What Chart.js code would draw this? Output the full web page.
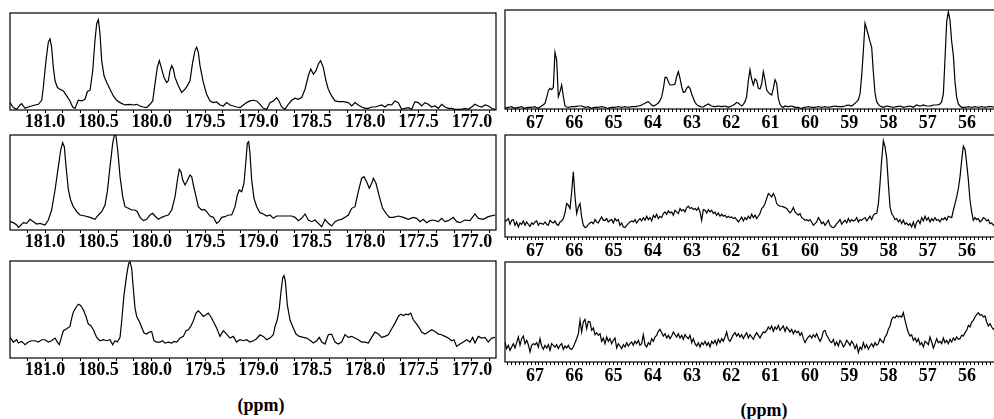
<!DOCTYPE html>
<html><head><meta charset="utf-8">
<script src="https://cdn.jsdelivr.net/npm/chart.js@4.4.1/dist/chart.umd.min.js"></script>
<style>
html,body{margin:0;padding:0;background:#fff;overflow:hidden;}
#wrap{position:relative;width:994px;height:419px;overflow:hidden;background:#fff;}
#wrap canvas{position:absolute;}
.unit{position:absolute;width:120px;text-align:center;font:bold 18px/18px "Liberation Serif","Times New Roman",serif;color:#000;}
</style></head><body><div id="wrap">
<canvas id="cTL"></canvas><canvas id="cML"></canvas><canvas id="cBL"></canvas>
<canvas id="cTR"></canvas><canvas id="cMR"></canvas><canvas id="cBR"></canvas>
<div class="unit" style="left:201px;top:396px">(ppm)</div>
<div class="unit" style="left:704px;top:401px">(ppm)</div>
</div>
<script>
// ---------- tick labels ----------
const leftTickLabels = ['181.0','180.5','180.0','179.5','179.0','178.5','178.0','177.5','177.0'];
const rightTickLabels = ['67','66','65','64','63','62','61','60','59','58','57','56'];

// ---------- left column (carbonyl region), chemical shift in ppm ----------
const ppmTopLeft = [
181.328,181.297,181.265,181.234,181.219,181.187,181.156,181.125,181.094,181.062,
181.031,181.016,180.991,180.969,180.953,180.938,180.922,180.906,180.884,180.859,
180.828,180.797,180.766,180.741,180.719,180.688,180.657,180.625,180.603,180.578,
180.553,180.532,180.516,180.500,180.485,180.469,180.447,180.422,180.391,180.360,
180.329,180.297,180.251,180.204,180.173,180.141,180.110,180.079,180.048,180.016,
179.991,179.970,179.948,179.929,179.907,179.885,179.860,179.845,179.829,179.813,
179.798,179.782,179.751,179.720,179.688,179.667,179.642,179.617,179.595,179.579,
179.564,179.548,179.517,179.486,179.454,179.423,179.392,179.361,179.329,179.298,
179.267,179.236,179.205,179.173,179.142,179.111,179.080,179.048,179.017,178.986,
178.955,178.923,178.892,178.861,178.830,178.808,178.783,178.752,178.721,178.689,
178.658,178.627,178.596,178.564,178.533,178.511,178.486,178.461,178.439,178.418,
178.393,178.368,178.346,178.315,178.283,178.252,178.205,178.158,178.127,178.096,
178.065,178.034,178.003,177.971,177.940,177.909,177.877,177.846,177.815,177.784,
177.752,177.721,177.690,177.659,177.628,177.596,177.565,177.534,177.503,177.471,
177.440,177.409,177.378,177.347,177.315,177.284,177.253,177.222,177.190,177.159,
177.128,177.097,177.066,177.035,177.003,176.972,176.941,176.909,176.878,176.847,
176.816,176.784];
const intTopLeft = [
22,7,2,15,19,5,9,12,15,17,
29,67,147,202,212,187,127,87,67,62,
57,42,27,9,5,29,27,32,55,59,
117,207,257,269,227,147,102,82,62,42,
29,22,15,17,15,17,12,9,7,17,
27,77,127,147,122,97,82,87,117,132,
122,97,72,52,62,72,87,142,177,187,
172,132,82,47,27,22,24,15,12,22,
15,12,9,7,15,22,27,29,27,17,
5,2,22,27,37,27,9,2,17,29,
35,32,37,62,102,122,107,117,137,147,
127,87,62,42,27,25,25,22,12,22,
15,9,5,5,9,9,12,15,9,17,
15,27,22,2,5,7,2,25,22,12,
22,17,9,12,5,17,9,5,5,2,
2,2,5,2,9,17,12,9,15,12,
5,2];

const ppmMidLeft = [
181.328,181.297,181.265,181.250,181.234,181.203,181.172,181.141,181.109,181.078,
181.047,181.000,180.969,180.938,180.906,180.875,180.853,180.835,180.819,180.803,
180.781,180.760,180.735,180.703,180.672,180.625,180.578,180.532,180.500,180.469,
180.438,180.416,180.391,180.366,180.350,180.335,180.319,180.297,180.272,180.251,
180.219,180.188,180.157,180.135,180.110,180.079,180.048,180.016,179.991,179.970,
179.938,179.907,179.876,179.845,179.813,179.782,179.757,179.742,179.726,179.710,
179.688,179.664,179.642,179.626,179.610,179.585,179.564,179.532,179.510,179.486,
179.454,179.423,179.392,179.370,179.345,179.314,179.283,179.251,179.220,179.198,
179.180,179.158,179.136,179.117,179.105,179.092,179.080,179.064,179.042,179.017,
178.986,178.955,178.923,178.892,178.861,178.830,178.783,178.736,178.689,178.658,
178.627,178.596,178.564,178.533,178.502,178.471,178.439,178.408,178.377,178.346,
178.315,178.283,178.252,178.221,178.190,178.158,178.127,178.096,178.065,178.034,
178.012,177.987,177.962,177.940,177.924,177.899,177.868,177.837,177.805,177.774,
177.737,177.690,177.643,177.596,177.550,177.518,177.487,177.456,177.425,177.393,
177.362,177.315,177.284,177.253,177.222,177.175,177.144,177.112,177.066,177.019,
176.972,176.941,176.894,176.847,176.784];
const intMidLeft = [
25,22,15,8,12,22,20,32,25,18,
20,15,30,60,120,190,240,262,250,190,
120,90,70,55,45,42,38,32,45,55,
75,115,190,260,285,282,240,160,100,70,
65,60,60,55,38,28,32,45,50,42,
32,38,42,45,60,100,155,182,175,150,
135,150,165,160,135,100,70,60,62,55,
42,38,20,25,38,40,45,45,70,105,
120,115,140,210,260,265,230,150,95,70,
52,48,42,45,35,42,42,42,42,38,
28,35,48,30,25,30,20,10,32,20,
12,25,30,32,38,45,65,70,115,155,
160,145,125,140,155,140,100,65,50,38,
38,42,38,32,38,35,25,32,22,28,
30,25,35,25,28,38,25,22,30,28,
48,35,32,40,45];

const ppmBotLeft = [
181.328,181.297,181.265,181.250,181.219,181.187,181.156,181.125,181.094,181.062,
181.031,181.000,180.969,180.938,180.906,180.884,180.866,180.844,180.828,180.797,
180.766,180.750,180.735,180.710,180.688,180.666,180.641,180.616,180.594,180.572,
180.547,180.516,180.485,180.454,180.422,180.391,180.366,180.344,180.322,180.297,
180.282,180.260,180.235,180.216,180.204,180.188,180.173,180.157,180.141,180.116,
180.094,180.072,180.048,180.023,180.001,179.979,179.954,179.923,179.898,179.876,
179.845,179.813,179.792,179.767,179.735,179.704,179.679,179.657,179.635,179.610,
179.585,179.564,179.542,179.517,179.492,179.470,179.448,179.423,179.392,179.361,
179.329,179.298,179.267,179.236,179.205,179.173,179.142,179.111,179.080,179.048,
179.017,178.986,178.955,178.923,178.892,178.861,178.845,178.824,178.805,178.789,
178.773,178.761,178.748,178.730,178.705,178.680,178.649,178.617,178.580,178.549,
178.511,178.486,178.455,178.430,178.408,178.377,178.346,178.315,178.283,178.252,
178.221,178.190,178.158,178.127,178.096,178.065,178.034,178.003,177.971,177.940,
177.909,177.877,177.846,177.815,177.784,177.752,177.721,177.690,177.668,177.643,
177.618,177.596,177.574,177.550,177.525,177.503,177.471,177.440,177.409,177.378,
177.347,177.315,177.284,177.253,177.222,177.190,177.169,177.144,177.112,177.081,
177.050,177.019,176.994,176.972,176.941,176.909,176.878,176.847,176.816,176.784];
const intBotLeft = [
62,48,55,45,50,40,48,52,52,48,
55,55,48,52,60,48,40,65,82,88,
95,120,138,152,162,158,145,125,102,98,
85,62,52,55,52,55,40,52,48,62,
110,190,250,285,290,270,210,150,125,110,
92,75,72,78,80,52,48,48,52,45,
48,45,50,48,60,65,82,85,95,112,
135,142,135,125,130,135,125,110,90,65,
82,72,60,65,48,55,52,55,48,52,
58,70,65,55,60,70,95,115,150,200,
242,248,230,160,115,95,72,65,62,60,
52,45,52,62,48,42,70,72,48,42,
48,70,62,65,60,55,48,48,45,62,
78,72,62,65,70,88,105,125,132,128,
132,130,135,115,105,95,78,72,78,85,
80,72,70,65,60,52,55,35,42,48,
55,48,62,45,65,60,62,48,60,62];

// ---------- right column (aliphatic region), shared ppm sampling ----------
const ppmRight = [
67.764,67.722,67.679,67.637,67.594,67.552,67.509,67.467,67.424,67.382,67.340,67.297,67.255,67.212,67.170,67.127,67.085,67.042,67.000,66.958,
66.915,66.873,66.830,66.788,66.745,66.703,66.660,66.618,66.576,66.533,66.491,66.448,66.406,66.363,66.321,66.278,66.236,66.194,66.151,66.109,
66.066,66.024,65.981,65.939,65.896,65.854,65.812,65.769,65.727,65.684,65.642,65.599,65.557,65.514,65.472,65.430,65.387,65.345,65.302,65.260,
65.217,65.175,65.132,65.090,65.048,65.005,64.963,64.920,64.878,64.835,64.793,64.750,64.708,64.666,64.623,64.581,64.538,64.496,64.453,64.411,
64.368,64.326,64.284,64.241,64.199,64.156,64.114,64.071,64.029,63.986,63.944,63.902,63.859,63.817,63.774,63.732,63.689,63.647,63.604,63.562,
63.520,63.477,63.435,63.392,63.350,63.307,63.265,63.222,63.180,63.138,63.095,63.053,63.010,62.968,62.925,62.883,62.840,62.798,62.756,62.713,
62.671,62.628,62.586,62.543,62.501,62.458,62.416,62.374,62.331,62.289,62.246,62.204,62.161,62.119,62.076,62.034,61.992,61.949,61.907,61.864,
61.822,61.779,61.737,61.694,61.652,61.610,61.567,61.525,61.482,61.440,61.397,61.355,61.312,61.270,61.228,61.185,61.143,61.100,61.058,61.015,
60.973,60.930,60.888,60.846,60.803,60.761,60.718,60.676,60.633,60.591,60.548,60.506,60.464,60.421,60.379,60.336,60.294,60.251,60.209,60.166,
60.124,60.082,60.039,59.997,59.954,59.912,59.869,59.827,59.784,59.742,59.700,59.657,59.615,59.572,59.530,59.487,59.445,59.402,59.360,59.318,
59.275,59.233,59.190,59.148,59.105,59.063,59.020,58.978,58.936,58.893,58.851,58.808,58.766,58.723,58.681,58.638,58.596,58.554,58.511,58.469,
58.426,58.384,58.341,58.299,58.256,58.214,58.172,58.129,58.087,58.044,58.002,57.959,57.917,57.874,57.832,57.790,57.747,57.705,57.662,57.620,
57.577,57.535,57.492,57.450,57.408,57.365,57.323,57.280,57.238,57.195,57.153,57.110,57.068,57.026,56.983,56.941,56.898,56.856,56.813,56.771,
56.728,56.686,56.644,56.601,56.559,56.516,56.474,56.431,56.389,56.346,56.304,56.262,56.219,56.177,56.134,56.092,56.049,56.007,55.964,55.922,
55.880,55.837,55.795,55.752,55.710,55.667,55.625,55.582,55.540,55.498,55.455,55.413,55.370,55.328,55.285];

const intTopRight = [
2,4,5,6,7,4,2,4,5,6,7,4,2,4,5,5,5,6,7,4,
2,6,9,13,17,35,55,62,58,65,170,147,37,52,72,37,9,6,5,6,
7,7,7,8,9,9,9,7,5,6,7,4,2,4,5,5,5,6,7,6,
5,3,2,4,5,5,5,6,7,6,5,6,7,6,5,6,7,7,7,8,
9,10,12,15,17,20,22,17,12,9,11,14,18,25,37,60,95,95,82,72,
72,73,75,97,112,92,67,50,52,62,68,62,45,32,20,13,10,8,6,6,
10,13,15,12,9,8,7,8,9,8,7,8,9,7,5,7,9,12,15,20,
18,13,9,14,22,38,85,118,90,72,90,85,62,60,75,112,87,57,50,45,
42,62,88,77,32,14,7,5,9,8,7,8,9,7,5,5,5,3,2,4,
5,6,7,6,5,5,5,6,7,6,5,6,7,6,5,6,7,8,9,8,
7,7,7,8,9,11,12,10,9,13,17,22,27,45,100,175,257,240,222,202,
185,110,48,22,14,9,7,5,7,9,8,7,6,5,6,7,8,9,7,5,
6,7,8,9,7,5,9,12,10,9,10,12,10,9,9,9,10,12,12,12,
13,15,22,45,150,262,292,265,202,160,80,35,15,9,5,5,5,6,7,6,
5,6,7,6,5,6,7,6,5,6,7,7,7,6,5];

const intMidRight = [
45,50,55,38,50,52,35,45,30,42,38,48,35,45,38,32,42,38,45,48,
35,42,40,38,45,38,35,50,45,42,48,38,35,45,48,55,72,100,95,85,
135,195,120,70,90,100,60,35,28,30,38,42,45,40,52,45,42,52,60,50,
50,55,45,50,52,42,55,48,52,35,42,30,28,35,40,45,48,45,52,42,
50,55,48,58,50,62,52,58,48,65,58,68,55,62,58,70,75,68,78,72,
75,65,80,75,70,85,78,82,75,88,92,85,88,82,85,80,88,75,50,82,
80,72,82,75,80,70,75,65,72,62,68,62,65,58,62,58,60,55,58,52,
45,52,60,48,58,52,62,55,68,58,65,55,62,70,85,90,100,115,130,125,
120,130,120,100,95,92,92,90,88,85,78,72,78,88,75,70,65,70,58,55,
50,52,48,52,45,35,40,45,58,50,40,45,35,42,50,35,30,28,32,40,
45,52,38,45,50,42,55,45,52,48,50,58,45,52,50,55,58,48,55,62,
52,65,70,70,100,160,230,288,270,235,160,90,70,62,52,55,45,52,40,50,
38,42,35,40,30,45,28,45,50,40,58,48,62,50,58,45,55,48,58,50,
52,45,55,52,58,50,62,60,58,80,100,120,145,180,230,272,262,220,170,110,
75,50,58,52,55,45,50,58,55,48,52,40,42,35,38];

const intBotRight = [
60,40,50,35,45,55,42,58,75,50,70,78,55,65,52,30,50,55,52,58,
45,70,48,38,50,42,52,35,55,50,45,52,40,50,55,38,48,42,50,40,
38,45,58,70,85,125,90,120,128,100,122,120,95,102,82,88,80,85,62,72,
55,75,62,70,55,65,72,42,55,48,40,52,45,58,48,55,60,50,62,55,
65,50,55,82,52,45,58,52,70,62,75,80,92,98,88,78,85,72,80,70,
78,90,82,75,85,72,80,68,82,75,70,80,58,70,55,48,58,45,58,52,
62,50,58,45,62,55,65,52,68,58,70,62,75,90,68,62,72,82,88,78,
85,75,82,70,80,88,72,82,75,68,80,88,80,72,82,90,88,95,105,98,
108,92,105,98,110,95,102,108,92,105,98,90,98,85,95,88,92,80,88,70,
58,68,75,80,72,82,75,85,72,62,72,92,95,80,72,62,58,68,50,60,
48,65,58,45,52,65,58,50,62,55,40,52,28,45,38,58,42,52,38,48,
55,45,58,50,55,70,62,58,75,82,98,108,128,135,132,140,135,138,135,148,
125,105,88,78,82,65,72,60,70,52,58,45,62,58,52,75,60,42,55,70,
58,62,55,72,58,65,55,68,60,72,65,75,68,70,80,78,88,95,110,105,
120,125,135,142,148,140,142,135,138,120,108,115,105,98,102];

// ---------- drawing ----------
const TICK_FONT = {family: '"Liberation Serif","Times New Roman",serif', size: 18, weight: 'bold', lineHeight: 1};
const TICK_LEN = 3;

const boxPlugin = {
  id: 'boxFrame',
  afterDraw(chart) {
    const {ctx, chartArea: a} = chart;
    ctx.save();
    ctx.strokeStyle = '#000';
    ctx.lineWidth = 1.2;
    ctx.strokeRect(a.left, a.top, a.right - a.left, a.bottom - a.top);
    ctx.restore();
  }
};

const leftAxis = {min: 176.775, max: 181.328, step: 1 / 6, labels: leftTickLabels, pad: 0};
const rightAxis = {min: 54.904, max: 67.764, step: 0.1, labels: rightTickLabels, pad: 2};

const panels = [
  {id: 'cTL', ppm: ppmTopLeft, y: intTopLeft, yMax: 289, axis: leftAxis, box: [10, 13, 496, 110]},
  {id: 'cML', ppm: ppmMidLeft, y: intMidLeft, yMax: 285, axis: leftAxis, box: [10, 135, 496, 230]},
  {id: 'cBL', ppm: ppmBotLeft, y: intBotLeft, yMax: 292, axis: leftAxis, box: [10, 261, 496, 358]},
  {id: 'cTR', ppm: ppmRight, y: intTopRight, yMax: 297, axis: rightAxis, box: [505, 10, 1010, 109]},
  {id: 'cMR', ppm: ppmRight, y: intMidRight, yMax: 305, axis: rightAxis, box: [505, 135, 1010, 237]},
  {id: 'cBR', ppm: ppmRight, y: intBotRight, yMax: 300, axis: rightAxis, box: [505, 262, 1010, 362]}
];

panels.forEach(p => {
  const [L, T, R, B] = p.box;
  const M = 6;
  const axisH = TICK_LEN + TICK_FONT.size * TICK_FONT.lineHeight + 2 * p.axis.pad;
  const cv = document.getElementById(p.id);
  cv.width = R - L + 2 * M;
  cv.height = (B - T) + 2 * M + axisH;
  cv.style.left = (L - M) + 'px';
  cv.style.top = (T - M) + 'px';
  const n = Math.min(p.ppm.length, p.y.length);
  const pts = [];
  for (let i = 0; i < n; i++) pts.push({x: p.ppm[i], y: p.y[i]});
  const labs = p.axis.labels;
  new Chart(cv, {
    type: 'line',
    data: {datasets: [{data: pts, borderColor: '#000', borderWidth: 1.2, pointRadius: 0, tension: 0, fill: false}]},
    options: {
      responsive: false, animation: false, devicePixelRatio: 1,
      layout: {padding: {left: M, right: M, top: M, bottom: M}},
      plugins: {legend: {display: false}, tooltip: {enabled: false}},
      scales: {
        x: {
          type: 'linear', reverse: true, min: p.axis.min, max: p.axis.max,
          border: {display: false},
          grid: {display: true, drawOnChartArea: false, drawTicks: true, tickLength: TICK_LEN, color: '#000', lineWidth: 1},
          ticks: {
            stepSize: p.axis.step, includeBounds: false, autoSkip: false, maxRotation: 0, minRotation: 0,
            padding: p.axis.pad, color: '#000', font: TICK_FONT,
            callback: (v) => {
              for (const s of labs) { if (Math.abs(parseFloat(s) - v) < 1e-6) return s; }
              return '';
            }
          }
        },
        y: {display: false, min: 0, max: p.yMax}
      }
    },
    plugins: [boxPlugin]
  });
});
</script>
</body></html>
